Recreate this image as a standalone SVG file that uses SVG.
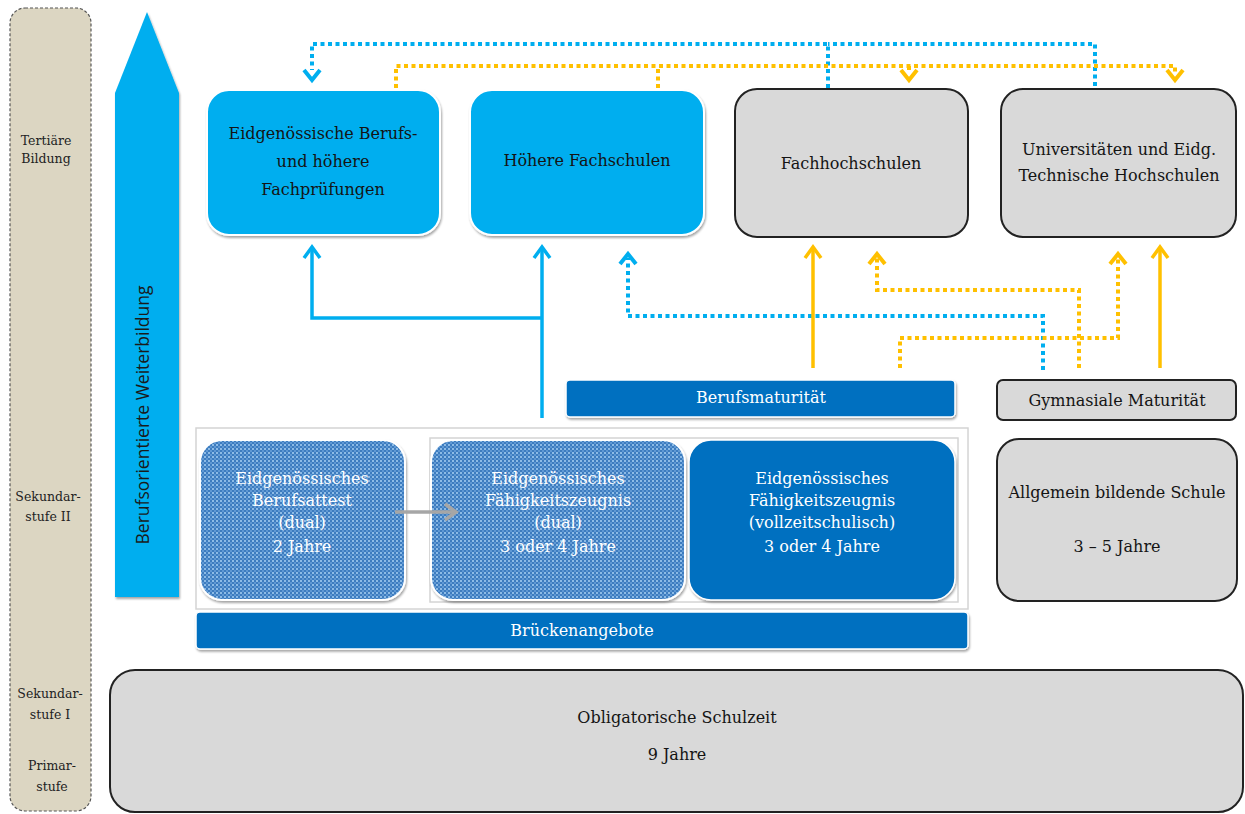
<svg xmlns="http://www.w3.org/2000/svg" width="1245" height="814" viewBox="0 0 1245 814">
<defs>
<style>
.t{font-family:"DejaVu Serif","Liberation Serif",serif;font-size:16px;text-anchor:middle;fill:#141414}
.w{fill:#fff}
.side{font-family:"DejaVu Serif","Liberation Serif",serif;font-size:12.5px;text-anchor:middle;fill:#222}
.cy{fill:#00aeef;stroke:#fff;stroke-width:2;filter:url(#sh)}
.gr{fill:#d9d9d9;stroke:#222;stroke-width:2}
.db{fill:#0070c0;stroke:#fff;stroke-width:1.5;filter:url(#sh)}
.pt{fill:url(#dots);stroke:#fff;stroke-width:2;filter:url(#sh)}
.sb{fill:none;stroke:#00aeef;stroke-width:3.5}
.so{fill:none;stroke:#ffc000;stroke-width:3.5}
.dbl{fill:none;stroke:#00aeef;stroke-width:4;stroke-dasharray:4 3.5}
.dor{fill:none;stroke:#ffc000;stroke-width:4;stroke-dasharray:4 3.5}
</style>
<filter id="sh" x="-10%" y="-10%" width="120%" height="130%">
<feDropShadow dx="1" dy="2" stdDeviation="1.2" flood-color="#000" flood-opacity="0.35"/>
</filter>
<pattern id="dots" width="4" height="4" patternUnits="userSpaceOnUse">
<rect width="4" height="4" fill="#3c7cbf"/>
<rect x="0" y="0" width="2" height="2" fill="#8dbbe6"/>
<rect x="2" y="2" width="2" height="2" fill="#5e98d4"/>
</pattern>
</defs>

<g id="levels">
<rect x="10" y="8" width="81" height="803" rx="15" fill="#dcd6c2" stroke="#555" stroke-width="1.2" stroke-dasharray="3 2"/>
<text class="side" x="46" y="145">Tertiäre</text>
<text class="side" x="46" y="163">Bildung</text>
<text class="side" x="48" y="501">Sekundar-</text>
<text class="side" x="48" y="521">stufe II</text>
<text class="side" x="50" y="698">Sekundar-</text>
<text class="side" x="50" y="719">stufe I</text>
<text class="side" x="52" y="770">Primar-</text>
<text class="side" x="52" y="791">stufe</text>
</g>

<g id="weiterbildung">
<polygon points="147,12 179,93 179,597 115,597 115,93" fill="#00aeef" filter="url(#sh)"/>
<text transform="translate(149,415) rotate(-90)" font-family="'Open Sans','Liberation Sans',sans-serif" font-size="17.5" text-anchor="middle" fill="#1a1a1a">Berufsorientierte Weiterbildung</text>
</g>

<g id="berufspruefungen">
<rect class="cy" x="207" y="90" width="233" height="145" rx="22"/>
<text class="t" x="323" y="139">Eidgenössische Berufs-</text>
<text class="t" x="323" y="167">und höhere</text>
<text class="t" x="323" y="195">Fachprüfungen</text>
</g>
<g id="hoehere-fachschulen">
<rect class="cy" x="470" y="90" width="234" height="145" rx="22"/>
<text class="t" x="587" y="166">Höhere Fachschulen</text>
</g>
<g id="fachhochschulen">
<rect class="gr" x="735" y="89" width="233" height="148" rx="22"/>
<text class="t" x="851" y="169">Fachhochschulen</text>
</g>
<g id="universitaeten">
<rect class="gr" x="1001" y="89" width="235" height="148" rx="22"/>
<text class="t" x="1119" y="155">Universitäten und Eidg.</text>
<text class="t" x="1119" y="181">Technische Hochschulen</text>
</g>

<g id="berufsmaturitaet">
<rect class="db" x="566" y="380" width="389" height="37" rx="4"/>
<text class="t w" x="761" y="403">Berufsmaturität</text>
</g>
<g id="gymnasiale-maturitaet">
<rect class="gr" x="997" y="380" width="239" height="40" rx="6"/>
<text class="t" x="1117" y="406">Gymnasiale Maturität</text>
</g>

<g id="sek2-frame">
<rect x="196" y="428" width="772" height="181" fill="none" stroke="#d4d4d4" stroke-width="1.5"/>
<rect x="430" y="438" width="528" height="164" fill="none" stroke="#d4d4d4" stroke-width="1.5"/>
</g>

<g id="berufsattest">
<rect class="pt" x="200" y="440" width="205" height="160" rx="22"/>
<text class="t w" x="302" y="484">Eidgenössisches</text>
<text class="t w" x="302" y="506">Berufsattest</text>
<text class="t w" x="302" y="528">(dual)</text>
<text class="t w" x="302" y="552">2 Jahre</text>
</g>
<g id="efz-dual">
<rect class="pt" x="431" y="440" width="254" height="160" rx="22"/>
<text class="t w" x="558" y="484">Eidgenössisches</text>
<text class="t w" x="558" y="506">Fähigkeitszeugnis</text>
<text class="t w" x="558" y="528">(dual)</text>
<text class="t w" x="558" y="552">3 oder 4 Jahre</text>
</g>
<g id="efz-vollzeit">
<rect class="db" x="689" y="440" width="266" height="160" rx="22"/>
<text class="t w" x="822" y="484">Eidgenössisches</text>
<text class="t w" x="822" y="506">Fähigkeitszeugnis</text>
<text class="t w" x="822" y="528">(vollzeitschulisch)</text>
<text class="t w" x="822" y="552">3 oder 4 Jahre</text>
</g>
<g id="allgemein">
<rect class="gr" x="997" y="439" width="240" height="162" rx="22"/>
<text class="t" x="1117" y="498">Allgemein bildende Schule</text>
<text class="t" x="1117" y="552">3 – 5 Jahre</text>
</g>
<g id="brueckenangebote">
<rect class="db" x="196" y="612" width="772" height="37" rx="4"/>
<text class="t w" x="582" y="636">Brückenangebote</text>
</g>
<g id="obligatorisch">
<rect class="gr" x="110" y="670" width="1133" height="142" rx="25"/>
<text class="t" x="677" y="723">Obligatorische Schulzeit</text>
<text class="t" x="677" y="760">9 Jahre</text>
</g>

<g id="connectors">
<path class="dbl" d="M828,88 V44 H312 V70"/>
<path class="dbl" d="M1095,86 V44 H828"/>
<path d="M304,70 L312,80 L320,70" fill="none" stroke="#00aeef" stroke-width="4"/>
<path class="dor" d="M396,88 V66 H1175 V72"/>
<path class="dor" d="M658,88 V66"/>
<path class="dor" d="M909,66 V72"/>
<path d="M901,70 L909,80 L917,70" fill="none" stroke="#ffc000" stroke-width="4"/>
<path d="M1167,70 L1175,80 L1183,70" fill="none" stroke="#ffc000" stroke-width="4"/>
<path class="sb" d="M542,418 V248"/>
<path class="sb" d="M542,318 H312 V248"/>
<path class="sb" d="M534,258 L542,247 L550,258"/>
<path class="sb" d="M304,258 L312,247 L320,258"/>
<path class="dbl" d="M1043,370 V316 H628 V258"/>
<path d="M620,264 L628,254 L636,264" fill="none" stroke="#00aeef" stroke-width="4"/>
<path class="dor" d="M1079,368 V290 H877 V258"/>
<path d="M869,264 L877,254 L885,264" fill="none" stroke="#ffc000" stroke-width="4"/>
<path class="dor" d="M900,368 V338 H1118 V258"/>
<path d="M1110,264 L1118,254 L1126,264" fill="none" stroke="#ffc000" stroke-width="4"/>
<path class="so" d="M813,368 V248"/>
<path class="so" d="M805,258 L813,247 L821,258"/>
<path class="so" d="M1160,368 V248"/>
<path class="so" d="M1152,258 L1160,247 L1168,258"/>
<path d="M395,512 H455" fill="none" stroke="#a6a6a6" stroke-width="3.5"/>
<path d="M445,504 L456,512 L445,520" fill="none" stroke="#a6a6a6" stroke-width="3.5"/>
</g>
</svg>
